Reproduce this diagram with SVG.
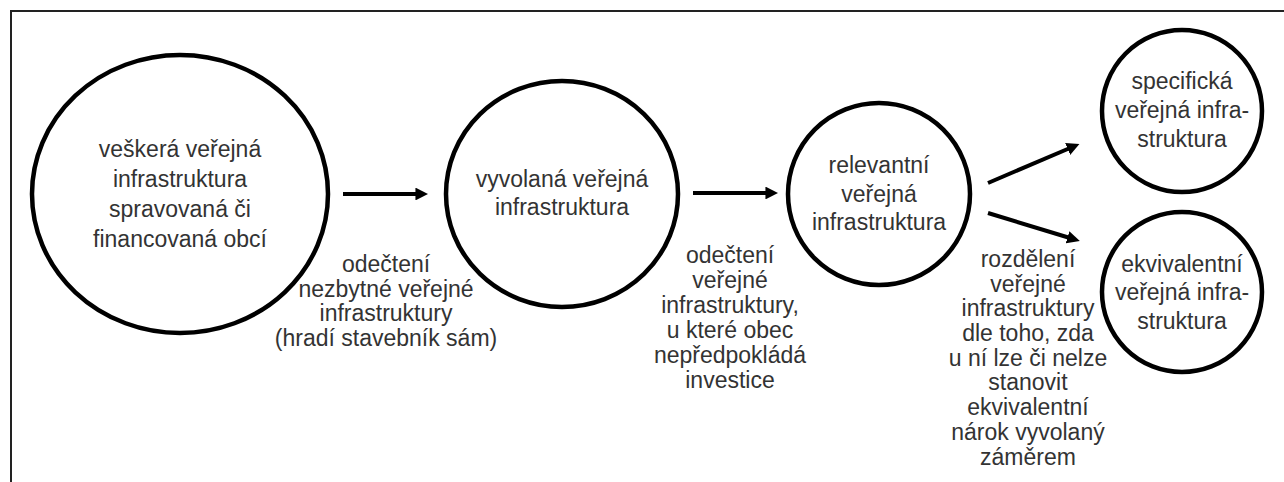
<svg xmlns="http://www.w3.org/2000/svg" width="1284" height="482" viewBox="0 0 1284 482">
<defs>
<style>
.node{fill:none;stroke:#000;stroke-width:4.5}
.t{font-family:"Liberation Sans",Arial,sans-serif;font-size:23px;fill:#333;text-anchor:middle}
.conn{stroke:#000;stroke-width:4;fill:none}
.frame{stroke:#222;stroke-width:2;fill:none}
</style>
<marker id="ah" viewBox="0 0 10 10" refX="2" refY="5" markerWidth="3.2" markerHeight="3.2" orient="auto" markerUnits="strokeWidth">
<path d="M0,0 L10,5 L0,10 Z" fill="#000"/>
</marker>
</defs>
<rect width="1284" height="482" fill="#fff"/>
<path class="frame" d="M11,482 V11 H1284"/>
<g id="n1">
<ellipse class="node" cx="180" cy="194" rx="148" ry="139"/>
<text class="t"><tspan x="180" y="157">veškerá veřejná</tspan><tspan x="180" y="187">infrastruktura</tspan><tspan x="180" y="217">spravovaná či</tspan><tspan x="180" y="247">financovaná obcí</tspan></text>
</g>
<g id="n2">
<ellipse class="node" cx="562" cy="194" rx="116" ry="113"/>
<text class="t"><tspan x="562" y="187">vyvolaná veřejná</tspan><tspan x="562" y="215">infrastruktura</tspan></text>
</g>
<g id="n3">
<ellipse class="node" cx="879" cy="194" rx="91" ry="91"/>
<text class="t"><tspan x="879" y="173">relevantní</tspan><tspan x="879" y="202">veřejná</tspan><tspan x="879" y="230">infrastruktura</tspan></text>
</g>
<g id="n4">
<ellipse class="node" cx="1182" cy="111" rx="80" ry="81"/>
<text class="t"><tspan x="1182" y="89">specifická</tspan><tspan x="1182" y="118">veřejná infra-</tspan><tspan x="1182" y="147">struktura</tspan></text>
</g>
<g id="n5">
<ellipse class="node" cx="1182" cy="292" rx="80" ry="80"/>
<text class="t"><tspan x="1182" y="272">ekvivalentní</tspan><tspan x="1182" y="300">veřejná infra-</tspan><tspan x="1182" y="329">struktura</tspan></text>
</g>
<g id="connectors">
<line class="conn" x1="343" y1="194" x2="418" y2="194" marker-end="url(#ah)"/>
<line class="conn" x1="693" y1="193" x2="768" y2="193" marker-end="url(#ah)"/>
<line class="conn" x1="988" y1="183" x2="1070" y2="148" marker-end="url(#ah)"/>
<line class="conn" x1="988" y1="213" x2="1070" y2="238" marker-end="url(#ah)"/>
<text class="t"><tspan x="386" y="272">odečtení</tspan><tspan x="386" y="297">nezbytné veřejné</tspan><tspan x="386" y="321">infrastruktury</tspan><tspan x="386" y="346">(hradí stavebník sám)</tspan></text>
<text class="t"><tspan x="730" y="263">odečtení</tspan><tspan x="730" y="288">veřejné</tspan><tspan x="730" y="313">infrastruktury,</tspan><tspan x="730" y="338">u které obec</tspan><tspan x="730" y="363">nepředpokládá</tspan><tspan x="730" y="388">investice</tspan></text>
<text class="t"><tspan x="1028" y="267">rozdělení</tspan><tspan x="1028" y="292">veřejné</tspan><tspan x="1028" y="316">infrastruktury</tspan><tspan x="1028" y="341">dle toho, zda</tspan><tspan x="1028" y="366">u ní lze či nelze</tspan><tspan x="1028" y="390">stanovit</tspan><tspan x="1028" y="415">ekvivalentní</tspan><tspan x="1028" y="440">nárok vyvolaný</tspan><tspan x="1028" y="465">záměrem</tspan></text>
</g>
</svg>
